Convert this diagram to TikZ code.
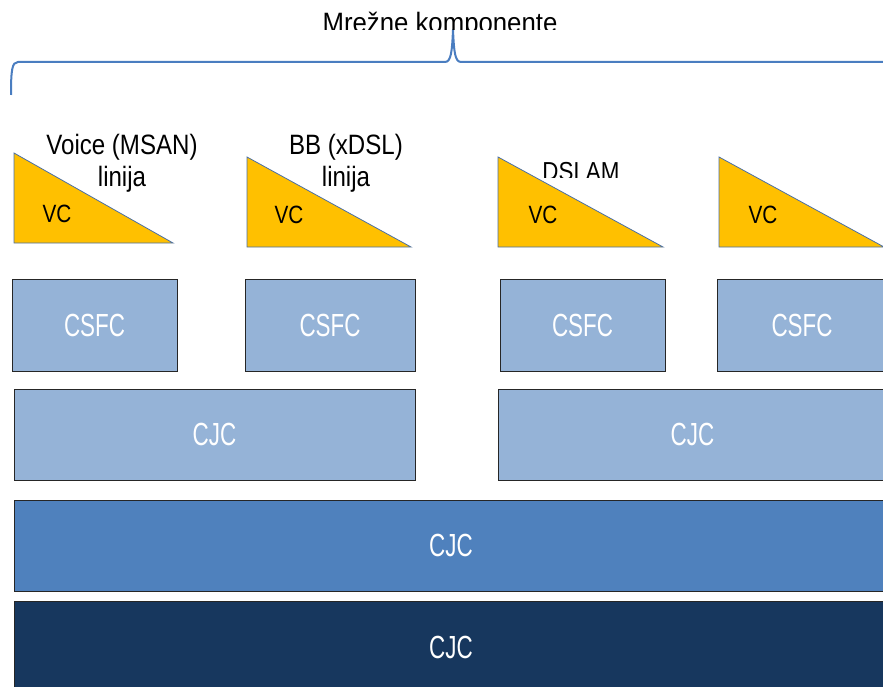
\documentclass[tikz,border=0pt]{standalone}
\usepackage{fontspec}
\usepackage{graphicx}
\setmainfont{Liberation Sans}
\definecolor{tri}{HTML}{FFC000}
\definecolor{triedge}{HTML}{4A6FA5}
\definecolor{light}{HTML}{95B3D7}
\definecolor{mid}{HTML}{4F81BD}
\definecolor{navy}{HTML}{17375E}
\definecolor{brace}{HTML}{4A7DC0}
\newcommand\sx[2]{\scalebox{#1}[1]{#2}}
\tikzset{
  box/.style={draw=black!85, line width=1pt, inner sep=0pt, text=white,
    font=\fontsize{32}{36}\selectfont},
  lightbox/.style={box, fill=light},
  vctext/.style={inner sep=0pt, font=\fontsize{25}{28}\selectfont},
  lbl/.style={inner sep=0pt, align=center, font=\fontsize{28}{32}\selectfont},
  trishape/.style={fill=tri, draw=triedge, line width=0.8pt},
}
\begin{document}
\begin{tikzpicture}[x=1pt,y=-1pt]
\useasboundingbox (0,0) rectangle (883,687);
\clip (0,0) rectangle (883,687);
% brace
\coordinate (bl) at (11,95);
\coordinate (bp) at (453,30);
\coordinate (br) at (895,62);
\draw[brace, line width=2pt, line join=round]
  (bl) .. controls (11,70) and (12,62) .. (18,62) -- (445,62)
  .. controls (451,62) and (452,52) .. (bp)
  .. controls (454,52) and (455,62) .. (461,62) -- (br);
\begin{scope}
  \clip (0,0) rectangle (883,30);
  \node[inner sep=0pt, anchor=base, font=\fontsize{28}{32}\selectfont] (title) at (440,33) {\sx{0.92}{Mrežne komponente}};
\end{scope}
% triangles
\draw[trishape] (14,153) -- (14,243) -- (173,243) -- cycle;
\draw[trishape] (247,157) -- (247,247) -- (411,247) -- cycle;
\draw[trishape] (498,157) -- (498,247) -- (663,247) -- cycle;
\draw[trishape] (719,157) -- (719,247) -- (884,247) -- cycle;
\node[vctext] (vc1) at (57,214) {\sx{0.83}{VC}};
\node[vctext] (vc2) at (289,215) {\sx{0.83}{VC}};
\node[vctext] (vc3) at (543,215) {\sx{0.83}{VC}};
\node[vctext] (vc4) at (763,215) {\sx{0.83}{VC}};
% labels
\node[lbl] (l1) at (122,163) {\sx{0.86}{Voice (MSAN)}\\\sx{0.86}{linija}};
\node[lbl] (l2) at (346,163) {\sx{0.86}{BB (xDSL)}\\\sx{0.86}{linija}};
\begin{scope}
  \clip (0,0) rectangle (883,178);
  \node[inner sep=0pt, anchor=base, font=\fontsize{26}{30}\selectfont] (l3) at (581,181) {\sx{0.86}{DSLAM}};
\end{scope}
% CSFC
\node[lightbox, minimum width=165pt, minimum height=92pt] (c1) at (94.5,325) {\sx{0.7}{CSFC}};
\node[lightbox, minimum width=170pt, minimum height=92pt] (c2) at (330,325) {\sx{0.7}{CSFC}};
\node[lightbox, minimum width=165pt, minimum height=92pt] (c3) at (582.5,325) {\sx{0.7}{CSFC}};
\node[lightbox, minimum width=170pt, minimum height=92pt] (c4) at (802,325) {\sx{0.7}{CSFC}};
% CJC
\node[lightbox, minimum width=401pt, minimum height=91pt] (j1) at (214.5,434.5) {\sx{0.7}{CJC}};
\node[lightbox, minimum width=389pt, minimum height=91pt] (j2) at (692.5,434.5) {\sx{0.7}{CJC}};
\node[box, fill=mid, minimum width=874pt, minimum height=91pt] (j3) at (451,545.5) {\sx{0.7}{CJC}};
\node[box, fill=navy, minimum width=874pt, minimum height=92pt] (j4) at (451,647) {\sx{0.7}{CJC}};
\end{tikzpicture}
\end{document}
